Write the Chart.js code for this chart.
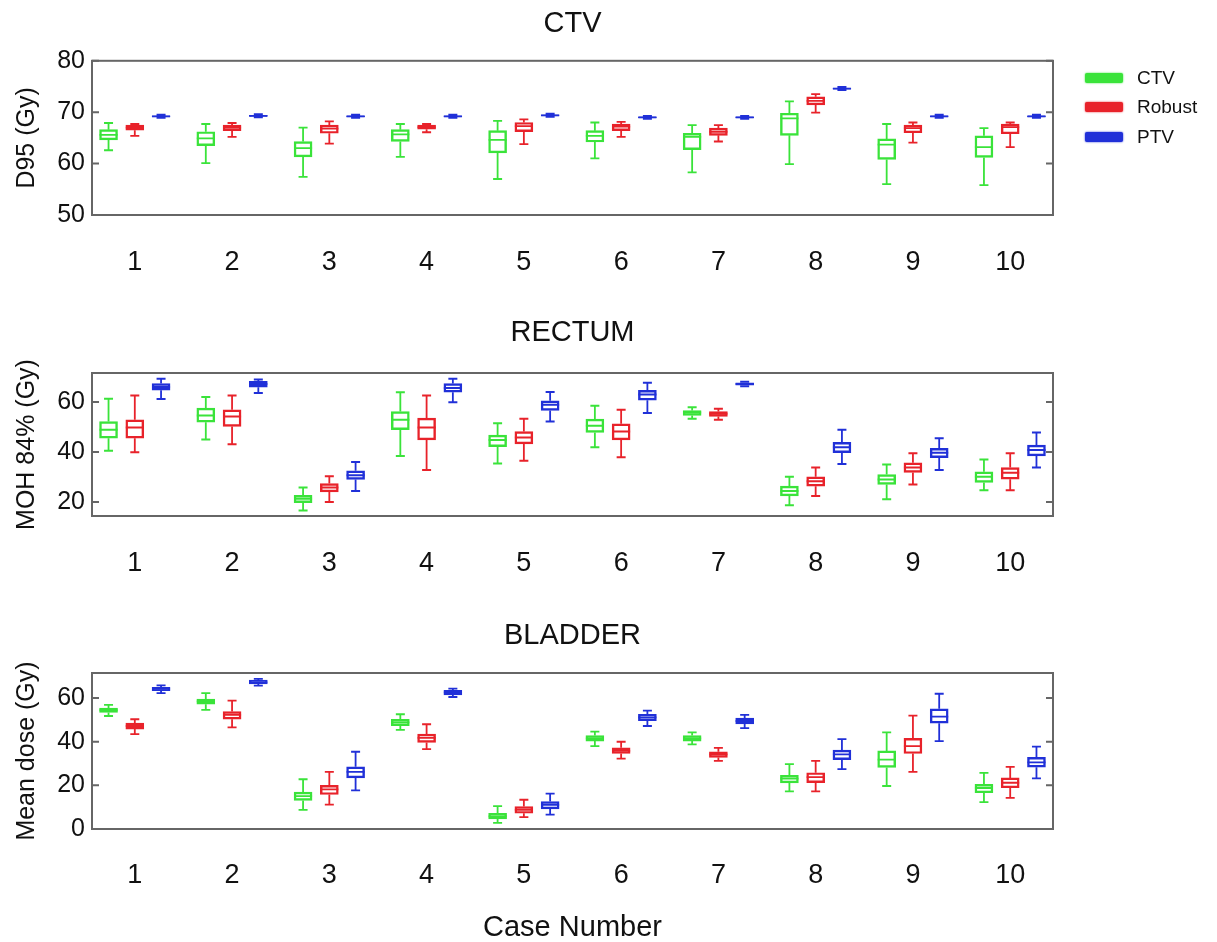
<!DOCTYPE html>
<html>
<head>
<meta charset="utf-8">
<script src="https://cdn.jsdelivr.net/npm/chart.js@4.4.1/dist/chart.umd.min.js"></script>
<style>
  body { margin: 0; background: #fff; width: 1217px; height: 942px; overflow: hidden; position: relative;
         font-family: "Liberation Sans", Arial, Helvetica, sans-serif; }
  canvas { position: absolute; left: 0; }
  #legend { position: absolute; left: 1085px; top: 63px; }
  .item { display: flex; align-items: center; height: 29.5px; font-size: 19px; color: #111; }
  .swatch { width: 38px; height: 10px; margin-right: 14px; border-radius: 2px; }
</style>
</head>
<body>
<canvas id="ctvChart" width="1217" height="300" style="top:0"></canvas>
<canvas id="rectumChart" width="1217" height="300" style="top:300px"></canvas>
<canvas id="bladderChart" width="1217" height="342" style="top:600px"></canvas>
<div id="legend"></div>
<script>
// case numbers on the x axis, plan types in each group
const cases = ['1', '2', '3', '4', '5', '6', '7', '8', '9', '10'];
const seriesNames = ['CTV', 'Robust', 'PTV'];
const seriesColors = ['#3ae33a', '#e8222a', '#2030d8'];

// box summaries per case: [whisker low, q1, median, q3, whisker high]
const d95Ctv = [
  [62.6, 64.6, 65.6, 66.6, 67.9], [60.1, 63.5, 64.9, 66.2, 67.7], [57.4, 61.3, 63.0, 64.3, 67.0],
  [61.3, 64.3, 65.7, 66.6, 67.7], [57.0, 62.1, 64.6, 66.4, 68.3], [61.0, 64.2, 65.4, 66.4, 68.0],
  [58.3, 62.7, 65.2, 65.9, 67.5], [59.9, 65.5, 68.8, 69.8, 72.1], [56.0, 60.8, 63.7, 64.8, 67.7],
  [55.8, 61.2, 63.2, 65.4, 66.9]
];
const d95Robust = [
  [65.4, 66.5, 67.0, 67.5, 67.7], [65.2, 66.4, 67.0, 67.5, 67.9], [63.9, 65.9, 66.8, 67.5, 68.2],
  [66.1, 66.7, 67.1, 67.5, 67.7], [63.8, 66.2, 67.3, 68.0, 68.6], [65.2, 66.4, 67.2, 67.7, 68.1],
  [64.3, 65.5, 66.2, 66.9, 67.5], [69.9, 71.4, 72.2, 73.0, 73.5], [64.1, 66.0, 66.9, 67.5, 68.0],
  [63.2, 65.8, 67.1, 67.7, 68.0]
];
const d95Ptv = [
  [68.9, 69.1, 69.2, 69.3, 69.5], [69.0, 69.2, 69.3, 69.4, 69.6], [68.9, 69.1, 69.2, 69.3, 69.5],
  [68.9, 69.1, 69.2, 69.3, 69.5], [69.1, 69.3, 69.4, 69.5, 69.7], [68.7, 68.9, 69.0, 69.1, 69.3],
  [68.7, 68.9, 69.0, 69.1, 69.3], [74.3, 74.5, 74.6, 74.7, 74.9], [68.9, 69.1, 69.2, 69.3, 69.5],
  [68.9, 69.1, 69.2, 69.3, 69.5]
];

const rectumCtv = [
  [40.5, 45.5, 48.9, 52.2, 61.3], [45.0, 51.9, 54.6, 57.6, 62.0], [16.6, 19.7, 21.3, 22.7, 25.8],
  [38.4, 48.9, 52.9, 56.2, 63.9], [35.4, 42.1, 44.8, 46.8, 51.5], [41.9, 47.8, 50.5, 53.2, 58.5],
  [53.3, 54.6, 55.8, 56.6, 57.9], [18.7, 22.4, 24.4, 26.4, 30.1], [21.1, 27.0, 29.0, 31.0, 35.0],
  [24.7, 27.8, 30.1, 32.1, 37.0]
];
const rectumRobust = [
  [39.9, 45.5, 49.8, 52.9, 62.6], [43.1, 50.2, 54.2, 56.9, 62.6], [20.0, 24.0, 25.8, 27.4, 30.3],
  [32.8, 44.8, 49.8, 53.6, 62.6], [36.5, 43.2, 45.8, 48.2, 53.3], [37.9, 44.8, 48.2, 51.3, 56.9],
  [52.9, 54.2, 55.3, 56.2, 57.3], [22.4, 26.3, 28.3, 30.1, 33.8], [27.0, 31.8, 33.8, 35.7, 39.5],
  [24.7, 29.1, 31.7, 33.8, 39.5]
];
const rectumPtv = [
  [61.2, 64.7, 66.0, 67.4, 69.3], [63.6, 65.9, 67.2, 68.3, 69.0], [24.4, 29.0, 30.7, 32.5, 36.0],
  [59.9, 63.9, 65.6, 67.4, 69.3], [52.2, 56.6, 58.9, 60.5, 64.0], [55.6, 60.7, 63.0, 64.7, 67.7],
  [66.3, 66.7, 67.2, 67.7, 68.1], [35.2, 39.7, 41.9, 43.9, 48.9], [32.8, 37.7, 39.7, 41.5, 45.5],
  [33.8, 38.4, 40.8, 42.8, 47.8]
];

const bladderCtv = [
  [51.8, 53.4, 54.5, 55.4, 56.9], [54.6, 57.2, 58.5, 59.5, 62.3], [8.8, 13.1, 15.1, 16.9, 22.8],
  [45.4, 47.4, 48.9, 50.3, 52.6], [2.8, 4.6, 5.8, 7.2, 10.5], [38.0, 40.3, 41.5, 42.8, 44.6],
  [38.8, 40.3, 41.5, 42.8, 44.3], [17.2, 21.1, 23.1, 24.6, 29.7], [19.7, 28.2, 31.8, 35.8, 44.3],
  [12.3, 16.6, 18.8, 20.5, 25.7]
];
const bladderRobust = [
  [43.5, 45.8, 47.2, 48.5, 50.3], [46.6, 50.3, 52.3, 53.8, 58.8], [11.2, 15.8, 18.2, 20.0, 26.2],
  [36.6, 39.7, 41.8, 43.5, 48.0], [5.4, 7.2, 8.8, 10.3, 13.4], [32.3, 34.6, 35.8, 37.2, 40.0],
  [31.2, 32.8, 34.2, 35.4, 37.2], [17.2, 21.2, 23.8, 25.8, 31.2], [26.2, 34.6, 38.0, 41.5, 52.0],
  [14.3, 18.9, 21.2, 23.4, 28.5]
];
const bladderPtv = [
  [62.3, 63.4, 64.2, 64.9, 65.8], [65.7, 66.5, 67.2, 68.2, 68.8], [17.7, 23.4, 26.2, 28.5, 35.4],
  [60.5, 61.5, 62.6, 63.5, 64.3], [6.6, 9.2, 11.1, 12.6, 16.2], [47.2, 49.7, 51.2, 52.6, 54.3],
  [46.2, 48.2, 49.5, 50.8, 52.3], [27.4, 31.8, 34.2, 36.2, 41.2], [40.3, 48.5, 51.5, 55.1, 62.0],
  [23.2, 28.3, 30.5, 32.8, 37.8]
];

const d95Ticks = [50, 60, 70, 80];
const rectumTicks = [20, 40, 60];
const bladderTicks = [0, 20, 40, 60];

const FONT = '"Liberation Sans", Arial, Helvetica, sans-serif';
const INK = '#111';
const GROUP_SHIFT = [-0.27, 0, 0.27];

// whiskers, caps and median line on top of each floating bar
const boxWhiskers = {
  id: 'boxWhiskers',
  afterDatasetsDraw(chart) {
    const ctx = chart.ctx, y = chart.scales.y;
    chart.data.datasets.forEach((ds, di) => {
      chart.getDatasetMeta(di).data.forEach((bar, i) => {
        const [lo, q1, med, q3, hi] = ds.summary[i];
        const x = bar.x, half = bar.width / 2, cap = half * 0.5;
        const pLo = y.getPixelForValue(lo), pHi = y.getPixelForValue(hi);
        const pQ1 = y.getPixelForValue(q1), pQ3 = y.getPixelForValue(q3);
        const pMed = y.getPixelForValue(med);
        ctx.save();
        ctx.strokeStyle = ds.borderColor;
        ctx.lineWidth = 1.8;
        ctx.beginPath();
        ctx.moveTo(x, pQ3); ctx.lineTo(x, pHi);
        ctx.moveTo(x, pQ1); ctx.lineTo(x, pLo);
        ctx.moveTo(x - cap, pHi); ctx.lineTo(x + cap, pHi);
        ctx.moveTo(x - cap, pLo); ctx.lineTo(x + cap, pLo);
        ctx.moveTo(x - half, pMed); ctx.lineTo(x + half, pMed);
        ctx.stroke();
        ctx.restore();
      });
    });
  }
};

// axes box with inward tick marks on both sides
const axesFrame = {
  id: 'axesFrame',
  afterDraw(chart) {
    const ctx = chart.ctx, a = chart.chartArea, y = chart.scales.y;
    ctx.save();
    ctx.strokeStyle = '#666';
    ctx.lineWidth = 2;
    ctx.strokeRect(a.left, a.top, a.right - a.left, a.bottom - a.top);
    ctx.beginPath();
    y.ticks.forEach(t => {
      const py = y.getPixelForValue(t.value);
      ctx.moveTo(a.left, py); ctx.lineTo(a.left + 7, py);
      ctx.moveTo(a.right, py); ctx.lineTo(a.right - 7, py);
    });
    ctx.stroke();
    ctx.restore();
  }
};

function makePanel(canvas, p) {
  const datasets = p.series.map((summary, s) => ({
    label: seriesNames[s],
    data: summary.map((b, i) => ({ x: i + 1 + GROUP_SHIFT[s], y: [b[1], b[3]] })),
    summary: summary,
    borderColor: seriesColors[s],
    backgroundColor: 'rgba(0,0,0,0)',
    borderWidth: 1.8,
    borderSkipped: false,
    grouped: false,
    maxBarThickness: 18,
    categoryPercentage: 1,
    barPercentage: 1
  }));
  return new Chart(canvas.getContext('2d'), {
    type: 'bar',
    data: { datasets },
    options: {
      responsive: false,
      animation: false,
      layout: { padding: { left: 0, right: 164, top: 0, bottom: 0 } },
      plugins: {
        legend: { display: false },
        tooltip: { enabled: false },
        title: {
          display: true, text: p.title, fullSize: false, color: INK,
          font: { family: FONT, size: 29, weight: 'normal' },
          padding: { top: p.titleTop, bottom: p.titleBottom }
        }
      },
      scales: {
        x: {
          type: 'linear', min: 0.56, max: 10.44, offset: false,
          afterBuildTicks: s => { s.ticks = cases.map((c, i) => ({ value: i + 1 })); },
          afterFit: s => { s.height = canvas.height - p.plotBottom; },
          grid: { display: false, drawTicks: false, offset: false },
          border: { display: false },
          ticks: {
            autoSkip: false, maxRotation: 0, padding: p.tickPad, color: INK,
            font: { family: FONT, size: 27 },
            callback: (v, i) => cases[i]
          },
          title: {
            display: !!p.xTitle, text: p.xTitle || '', color: INK,
            font: { family: FONT, size: 29, lineHeight: 1 },
            padding: { top: 0, bottom: 0 }
          }
        },
        y: {
          min: p.yMin, max: p.yMax,
          afterBuildTicks: s => { s.ticks = p.ticks.map(v => ({ value: v })); },
          afterFit: s => { s.width = 92; },
          grid: { display: false, drawTicks: false },
          border: { display: false },
          ticks: { padding: 7, color: INK, font: { family: FONT, size: 25 } },
          title: {
            display: true, text: p.yTitle, color: INK,
            font: { family: FONT, size: 25 },
            padding: { top: 12, bottom: 0 }
          }
        }
      }
    },
    plugins: [boxWhiskers, axesFrame]
  });
}

makePanel(document.getElementById('ctvChart'), {
  title: 'CTV', yTitle: 'D95 (Gy)', series: [d95Ctv, d95Robust, d95Ptv],
  ticks: d95Ticks, yMin: 50, yMax: 80,
  titleTop: 7, titleBottom: 19, plotBottom: 215, tickPad: 31
});
makePanel(document.getElementById('rectumChart'), {
  title: 'RECTUM', yTitle: 'MOH 84% (Gy)', series: [rectumCtv, rectumRobust, rectumPtv],
  ticks: rectumTicks, yMin: 14.4, yMax: 71.6,
  titleTop: 15.6, titleBottom: 22.6, plotBottom: 216, tickPad: 31
});
makePanel(document.getElementById('bladderChart'), {
  title: 'BLADDER', yTitle: 'Mean dose (Gy)', series: [bladderCtv, bladderRobust, bladderPtv],
  ticks: bladderTicks, yMin: 0, yMax: 71.5, xTitle: 'Case Number',
  titleTop: 18.6, titleBottom: 19.6, plotBottom: 229, tickPad: 30
});

// legend shared by the three panels
const legend = document.getElementById('legend');
seriesNames.forEach((name, s) => {
  const item = document.createElement('div');
  item.className = 'item';
  const sw = document.createElement('span');
  sw.className = 'swatch';
  sw.style.background = seriesColors[s];
  sw.style.boxShadow = '0 0 2px ' + seriesColors[s];
  item.appendChild(sw);
  item.appendChild(document.createTextNode(name));
  legend.appendChild(item);
});
</script>
</body>
</html>
